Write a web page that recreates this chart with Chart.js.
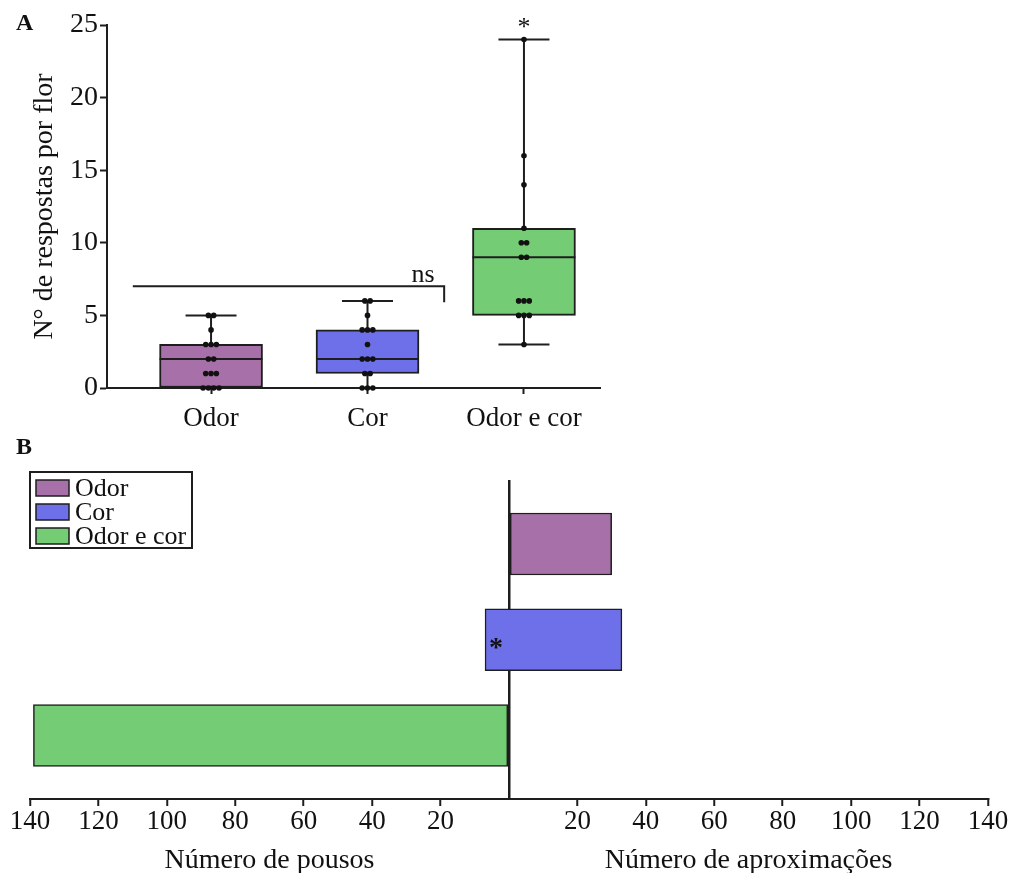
<!DOCTYPE html>
<html>
<head>
<meta charset="utf-8">
<script src="https://cdn.jsdelivr.net/npm/chart.js@4.4.0/dist/chart.umd.min.js"></script>
<style>
  html, body { margin: 0; padding: 0; background: #fff; }
  #wrap { position: relative; width: 1013px; height: 873px; }
  #boxA { position: absolute; left: 0; top: 0; width: 620px; height: 440px; }
  #boxB { position: absolute; left: 0; top: 425px; width: 1013px; height: 448px; }
</style>
</head>
<body>
<div id="wrap">
  <div id="boxA"><canvas id="chartA"></canvas></div>
  <div id="boxB"><canvas id="chartB"></canvas></div>
</div>
<script>
const groups = ['Odor', 'Cor', 'Odor e cor'];
const groupColors = ['rgb(168, 112, 168)', 'rgb(110, 112, 234)', 'rgb(116, 204, 116)'];

// A: responses per flower (one dot per flower)
const odorValues = [0, 0, 0, 0, 1, 1, 1, 2, 2, 3, 3, 3, 4, 5, 5];
const corValues = [0, 0, 0, 1, 1, 2, 2, 2, 3, 4, 4, 4, 5, 6, 6];
const odorCorValues = [3, 5, 5, 5, 6, 6, 6, 9, 9, 10, 10, 11, 14, 16, 24];
const boxLow = [0, 1, 5];
const boxHigh = [3, 4, 11];
const medians = [2, 2, 9];
const whiskerLow = [0, 0, 3];
const whiskerHigh = [5, 6, 24];
const yTicksA = [0, 5, 10, 15, 20, 25];

// B: landings (left) and approaches (right)
const pousos = [0, 7, 139];
const aproximacoes = [30, 33, 0];
const xTicksB = [-140, -120, -100, -80, -60, -40, -20, 0, 20, 40, 60, 80, 100, 120, 140];

const SERIF = '"Liberation Serif", "Times New Roman", serif';
const INK = '#1e1e1e';
Chart.defaults.font.family = SERIF;
Chart.defaults.color = '#111';

// ---------- panel A ----------
const seg = (pts, order) => ({
  type: 'line', data: pts, borderColor: INK, borderWidth: 2,
  pointRadius: 0, fill: false, tension: 0, order: order, clip: false
});

const datasetsA = [];
datasetsA.push({
  type: 'bar',
  data: groups.map((g, i) => ({ x: i, y: [boxLow[i], boxHigh[i]] })),
  backgroundColor: groupColors,
  borderColor: INK,
  borderWidth: 2,
  borderSkipped: false,
  barThickness: 103,
  order: 3
});
groups.forEach((g, i) => {
  datasetsA.push(seg([{ x: i, y: whiskerLow[i] }, { x: i, y: whiskerHigh[i] }], 4));
  datasetsA.push(seg([{ x: i - 0.163, y: whiskerHigh[i] }, { x: i + 0.163, y: whiskerHigh[i] }], 2));
  datasetsA.push(seg([{ x: i - 0.163, y: whiskerLow[i] }, { x: i + 0.163, y: whiskerLow[i] }], 2));
  datasetsA.push(seg([{ x: i - 0.329, y: medians[i] }, { x: i + 0.329, y: medians[i] }], 2));
});
// ns bracket
datasetsA.push(seg([{ x: -0.5, y: 7 }, { x: 1.49, y: 7 }, { x: 1.49, y: 5.9 }], 2));

// dots, spread sideways when values repeat
const dotPoints = [];
[odorValues, corValues, odorCorValues].forEach((vals, g) => {
  const counts = {};
  vals.forEach(v => { counts[v] = (counts[v] || 0) + 1; });
  const seen = {};
  vals.forEach(v => {
    seen[v] = (seen[v] || 0) + 1;
    const off = (seen[v] - 1 - (counts[v] - 1) / 2) * 0.034;
    dotPoints.push({ x: g + off, y: v });
  });
});
datasetsA.push({
  type: 'line', data: dotPoints, showLine: false,
  pointRadius: 2.8, pointBackgroundColor: '#111', pointBorderWidth: 0,
  order: 1, clip: false
});

const notesA = {
  id: 'notesA',
  afterDraw(chart) {
    const { ctx, scales: { x, y } } = chart;
    ctx.save();
    ctx.fillStyle = '#111';
    ctx.font = 'bold 24px ' + SERIF;
    ctx.textAlign = 'left';
    ctx.textBaseline = 'alphabetic';
    ctx.fillText('A', 16, 30);
    ctx.font = '26px ' + SERIF;
    ctx.textAlign = 'center';
    ctx.fillText('ns', x.getPixelForValue(1.355), y.getPixelForValue(7.29));
    ctx.fillText('*', x.getPixelForValue(2), y.getPixelForValue(whiskerHigh[2]) - 5);
    ctx.restore();
  }
};

new Chart(document.getElementById('chartA'), {
  type: 'bar',
  data: { datasets: datasetsA },
  options: {
    responsive: true,
    maintainAspectRatio: false,
    animation: false,
    layout: { padding: { left: 0, right: 20, top: 25, bottom: 0 } },
    plugins: { legend: { display: false }, tooltip: { enabled: false } },
    scales: {
      x: {
        type: 'linear', min: -0.665, max: 2.486, offset: false,
        afterBuildTicks: s => { s.ticks = groups.map((g, i) => ({ value: i })); },
        afterFit: s => { s.height = 52; },
        ticks: {
          callback: v => groups[v] ?? '',
          font: { size: 27 }, color: '#111', padding: 9,
          maxRotation: 0, autoSkip: false
        },
        grid: { drawOnChartArea: false, offset: false, tickLength: 6, tickColor: INK, tickWidth: 2 },
        border: { color: INK, width: 2 }
      },
      y: {
        min: 0, max: 25,
        afterBuildTicks: s => { s.ticks = yTicksA.map(v => ({ value: v })); },
        afterFit: s => { s.width = 107; },
        ticks: { font: { size: 28 }, color: '#111', padding: 2 },
        grid: { drawOnChartArea: false, tickLength: 7, tickColor: INK, tickWidth: 2 },
        border: { color: INK, width: 2 },
        title: {
          display: true, text: 'N° de respostas por flor',
          font: { size: 28 }, color: '#111', padding: { top: 28, bottom: 0 }
        }
      }
    }
  },
  plugins: [notesA]
});

// ---------- panel B ----------
const notesB = {
  id: 'notesB',
  afterDraw(chart) {
    const { ctx, chartArea, scales: { x, y } } = chart;
    ctx.save();
    ctx.fillStyle = '#111';
    ctx.font = 'bold 24px ' + SERIF;
    ctx.textAlign = 'left';
    ctx.textBaseline = 'alphabetic';
    ctx.fillText('B', 16, 29);

    // axis titles under each half
    ctx.font = '28px ' + SERIF;
    ctx.textAlign = 'center';
    ctx.textBaseline = 'middle';
    ctx.fillText('Número de pousos', x.getPixelForValue(-70), 436);
    ctx.fillText('Número de aproximações', x.getPixelForValue(70), 436);

    // significance mark on the Cor bar
    ctx.font = 'bold 28px ' + SERIF;
    ctx.textBaseline = 'alphabetic';
    ctx.fillText('*', x.getPixelForValue(-pousos[1]) + 11, y.getPixelForValue(1) + 16);

    // legend box
    const lx = chartArea.left, ly = chartArea.top - 8;
    ctx.fillStyle = '#fff';
    ctx.fillRect(lx, ly, 162, 76);
    ctx.strokeStyle = INK;
    ctx.lineWidth = 2;
    ctx.strokeRect(lx, ly, 162, 76);
    ctx.font = '26px ' + SERIF;
    ctx.textAlign = 'left';
    ctx.textBaseline = 'middle';
    groups.forEach((g, i) => {
      const cy = ly + 16 + i * 24;
      ctx.fillStyle = groupColors[i];
      ctx.fillRect(lx + 6, cy - 8, 33, 16);
      ctx.lineWidth = 1.5;
      ctx.strokeRect(lx + 6, cy - 8, 33, 16);
      ctx.fillStyle = '#111';
      ctx.fillText(g, lx + 45, cy + 1);
    });
    ctx.restore();
  }
};

new Chart(document.getElementById('chartB'), {
  type: 'bar',
  data: {
    datasets: [{
      data: groups.map((g, i) => ({ y: i, x: [-pousos[i], aproximacoes[i]] })),
      backgroundColor: groupColors,
      borderColor: INK,
      borderWidth: 1.5,
      borderSkipped: false,
      barThickness: 62
    }]
  },
  options: {
    indexAxis: 'y',
    responsive: true,
    maintainAspectRatio: false,
    animation: false,
    layout: { padding: { left: 30, right: 25, top: 55, bottom: 0 } },
    plugins: { legend: { display: false }, tooltip: { enabled: false } },
    scales: {
      x: {
        type: 'linear', min: -140, max: 140, z: 1,
        afterBuildTicks: s => { s.ticks = xTicksB.map(v => ({ value: v })); },
        afterFit: s => { s.height = 74; },
        ticks: {
          callback: v => (v === 0 ? '' : Math.abs(v)),
          font: { size: 27 }, color: '#111', padding: 0,
          maxRotation: 0, autoSkip: false
        },
        grid: {
          drawOnChartArea: true,
          color: c => (c.tick && c.tick.value === 0 ? INK : 'rgba(0,0,0,0)'),
          lineWidth: 2.5,
          tickLength: 7,
          tickColor: c => (c.tick && c.tick.value === 0 ? 'rgba(0,0,0,0)' : INK),
          tickWidth: 2
        },
        border: { color: INK, width: 2 }
      },
      y: {
        type: 'linear', display: false, reverse: true, min: -0.668, max: 2.663, offset: false
      }
    }
  },
  plugins: [notesB]
});
</script>
</body>
</html>
